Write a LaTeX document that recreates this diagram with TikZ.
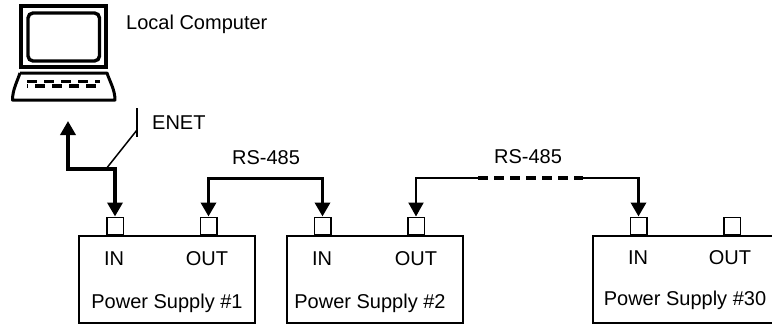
\documentclass[tikz,border=0pt]{standalone}
\usepackage{fontspec}
\setmainfont{Liberation Sans}
\usetikzlibrary{arrows.meta}
\tikzset{
  box/.style={draw,line width=1.5pt,inner sep=0pt,anchor=north west},
  port/.style={draw,line width=1.5pt,inner sep=0pt,minimum width=16.5pt,minimum height=17pt,anchor=south},
  lbl/.style={inner sep=0pt,anchor=base,font=\fontsize{20}{20}\selectfont},
  tip/.style={-{Triangle[length=14pt,width=15pt]}},
  heavy/.style={line width=3.4pt,tip},
  light/.style={line width=2.1pt},
}
\begin{document}
\begin{tikzpicture}[x=1pt,y=-1pt]
\useasboundingbox (0,0) rectangle (772,324);
% computer
\draw[line width=3.7pt] (21,6) rectangle (106,67);
\draw[line width=3.4pt,rounded corners=5pt] (28,13) rectangle (99.5,61);
\draw[line width=3pt,line join=round] (20,73) -- (107,73) .. controls (110,82) and (115,90) .. (115,100) -- (12.5,100) .. controls (12.5,90) and (17,82) .. (20,73);
\draw[line width=3.6pt,dash pattern=on 10pt off 7pt] (27,81.5) -- (100,81.5);
\draw[line width=3.6pt,dash pattern=on 10pt off 7pt,dash phase=-8pt] (27,86) -- (100,86);
% boxes
\node[box,minimum width=176pt,minimum height=87pt] (ps1) at (78,235) {};
\node[box,minimum width=176pt,minimum height=87pt] (ps2) at (286,235) {};
\node[box,minimum width=180pt,minimum height=87pt] (ps30) at (592,235) {};
% ports
\node[port] (in1) at (115,235) {};
\node[port] (out1) at (208.5,235) {};
\node[port] (in2) at (322.5,235) {};
\node[port] (out2) at (416,235) {};
\node[port] (in30) at (638.5,235) {};
\node[port] (out30) at (732,235) {};
% labels
\node[lbl,anchor=base west] (lc) at (126,30) {Local Computer};
\node[lbl,anchor=base west] (enet) at (152,129) {ENET};
\node[lbl] (rs1) at (266,164) {RS-485};
\node[lbl] (rs2) at (528,163) {RS-485};
\node[lbl] at (114,265) {IN};
\node[lbl] at (207,265) {OUT};
\node[lbl] at (167,308) {Power Supply \#1};
\node[lbl] at (322,265) {IN};
\node[lbl] at (416,265) {OUT};
\node[lbl] at (370,308) {Power Supply \#2};
\node[lbl] at (638,264) {IN};
\node[lbl] at (730,264) {OUT};
\node[lbl] at (685,305) {Power Supply \#30};
% connectors
\coordinate (cup) at (68,121);
\coordinate (bend) at (68,169);
\coordinate (knee) at (115,169);
\draw[heavy] (knee) -- (in1.north);
\draw[heavy] (bend) -- (cup);
\draw[line width=3.4pt,line cap=rect] (bend) -- (knee);
\coordinate (ttop) at (137,108);
\coordinate (tbot) at (137,137);
\coordinate (tmid) at (137,130);
\coordinate (tfoot) at (106,169);
\draw[line width=1.5pt] (ttop) -- (tbot);
\draw[line width=1.5pt] (tmid) -- (tfoot);
\coordinate (r1) at (208.5,178.5);
\coordinate (r2) at (322.5,178.5);
\draw[heavy] (r1) -- (out1.north);
\draw[heavy] (r2) -- (in2.north);
\draw[line width=3.4pt,line cap=rect] (r1) -- (r2);
\coordinate (d1) at (478,178);
\coordinate (d2) at (583,178);
\coordinate (r3) at (416,178);
\coordinate (r4) at (638.5,178);
\draw[light,tip] (r3) -- (out2.north);
\draw[heavy] (r4) -- (in30.north);
\draw[light,line cap=rect] (r3) -- (d1);
\draw[light,line cap=rect] (d2) -- (r4);
\draw[line width=3.2pt,dash pattern=on 10pt off 6pt] (d1) -- (d2);
\end{tikzpicture}
\end{document}
